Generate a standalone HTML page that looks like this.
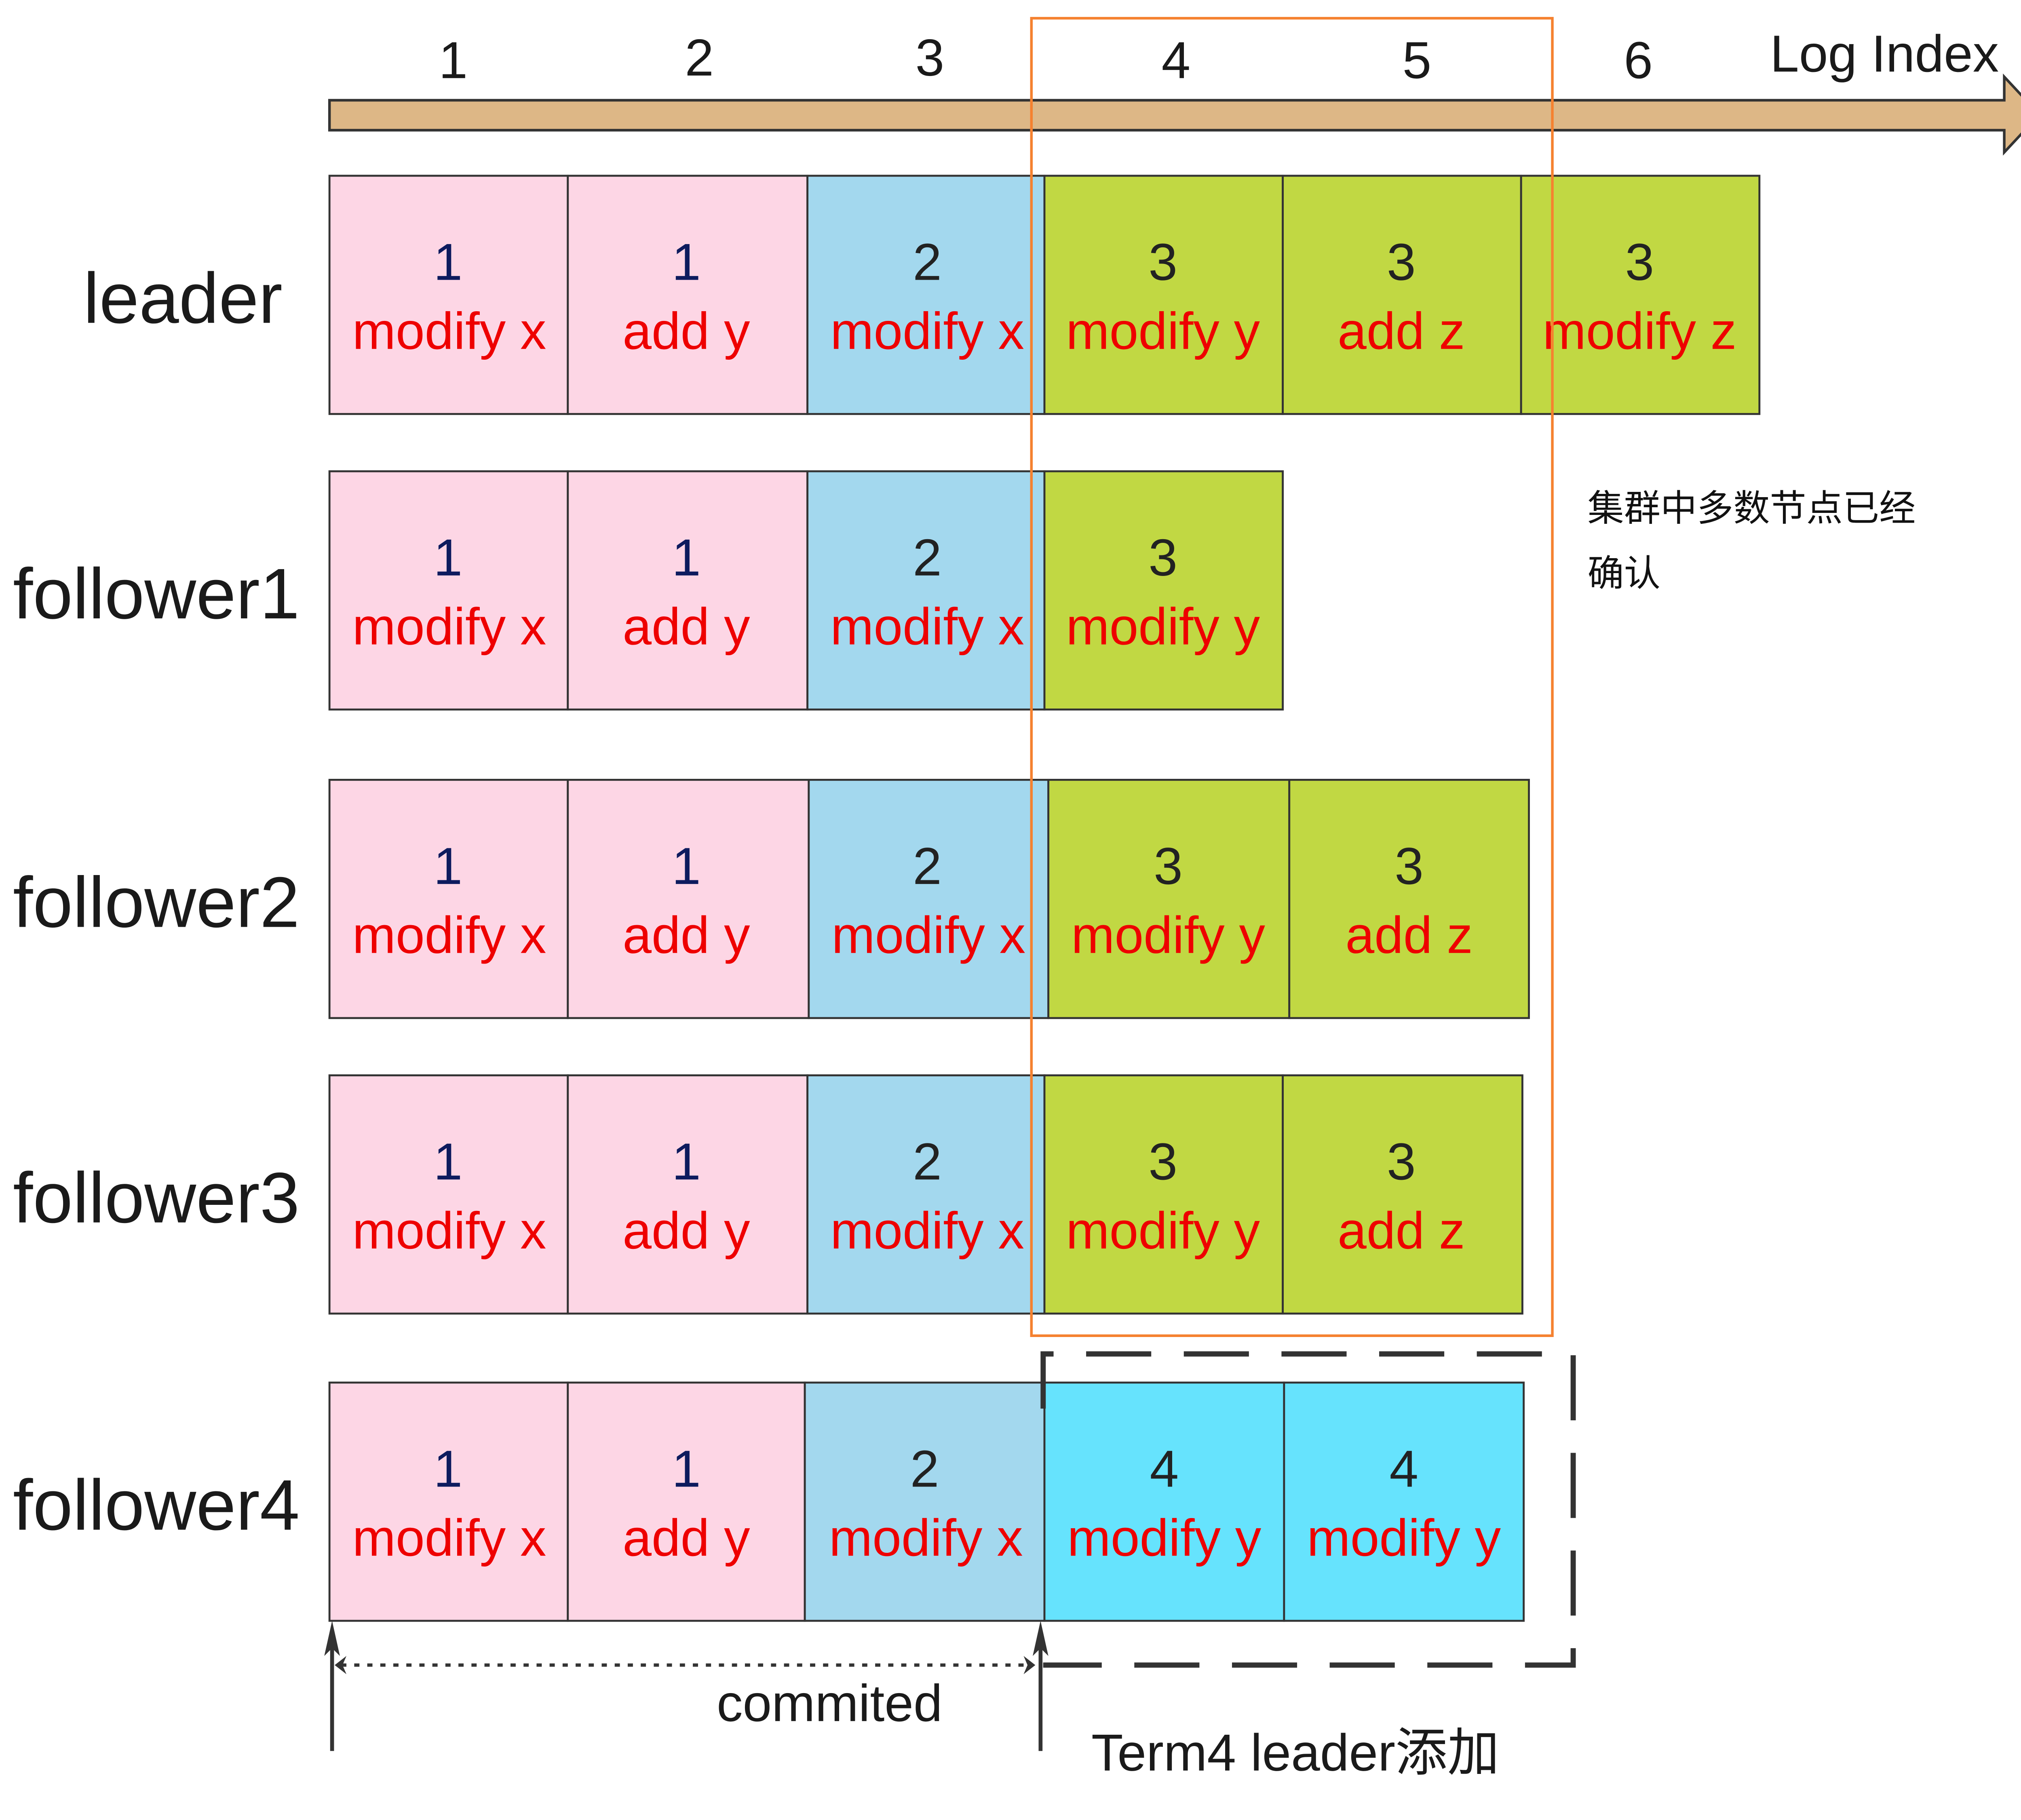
<!DOCTYPE html>
<html><head><meta charset="utf-8"><style>
html,body{margin:0;padding:0;background:#fff;}
svg{display:block;}
text{font-family:"Liberation Sans","Noto Sans CJK SC",sans-serif;}
.n{font-size:40px;text-anchor:middle;fill:#222;}
.nb{font-size:40px;text-anchor:middle;fill:#0d1b5e;}
.l{font-size:40px;text-anchor:middle;fill:#ee0000;}
.r{font-size:55px;fill:#1a1a1a;}
.c{stroke:#333;stroke-width:1.5;}
</style></head><body>
<svg width="5052" height="4503" viewBox="0 0 1568 1398" preserveAspectRatio="none" xmlns="http://www.w3.org/2000/svg">
<!-- axis arrow -->
<polygon points="253,77 1539,77 1539,59 1566,88 1539,117 1539,100 253,100" fill="#DDB786" stroke="#333" stroke-width="2"/>
<g style="font-size:40px;fill:#1a1a1a;text-anchor:middle">
<text x="348" y="60">1</text><text x="537" y="58">2</text><text x="714" y="58">3</text>
<text x="903" y="60">4</text><text x="1088" y="60">5</text><text x="1258" y="60">6</text>
<text x="1447" y="55">Log Index</text>
</g>

<!-- leader -->
<text class="r" x="64" y="248">leader</text>
<rect class="c" x="253" y="135" width="183" height="183" fill="#FDD6E5"/>
<rect class="c" x="436" y="135" width="184" height="183" fill="#FDD6E5"/>
<rect class="c" x="620" y="135" width="182" height="183" fill="#A3D8EE"/>
<rect class="c" x="802" y="135" width="183" height="183" fill="#C1D843"/>
<rect class="c" x="985" y="135" width="183" height="183" fill="#C1D843"/>
<rect class="c" x="1168" y="135" width="183" height="183" fill="#C1D843"/>
<text class="nb" x="344" y="215">1</text><text class="l" x="345" y="268">modify x</text>
<text class="nb" x="527" y="215">1</text><text class="l" x="527" y="268">add y</text>
<text class="n" x="712" y="215">2</text><text class="l" x="712" y="268">modify x</text>
<text class="n" x="893" y="215">3</text><text class="l" x="893" y="268">modify y</text>
<text class="n" x="1076" y="215">3</text><text class="l" x="1076" y="268">add z</text>
<text class="n" x="1259" y="215">3</text><text class="l" x="1259" y="268">modify z</text>

<!-- follower1 -->
<text class="r" x="10" y="475">follower1</text>
<rect class="c" x="253" y="362" width="183" height="183" fill="#FDD6E5"/>
<rect class="c" x="436" y="362" width="184" height="183" fill="#FDD6E5"/>
<rect class="c" x="620" y="362" width="182" height="183" fill="#A3D8EE"/>
<rect class="c" x="802" y="362" width="183" height="183" fill="#C1D843"/>
<text class="nb" x="344" y="442">1</text><text class="l" x="345" y="495">modify x</text>
<text class="nb" x="527" y="442">1</text><text class="l" x="527" y="495">add y</text>
<text class="n" x="712" y="442">2</text><text class="l" x="712" y="495">modify x</text>
<text class="n" x="893" y="442">3</text><text class="l" x="893" y="495">modify y</text>

<!-- follower2 -->
<text class="r" x="10" y="712">follower2</text>
<rect class="c" x="253" y="599" width="183" height="183" fill="#FDD6E5"/>
<rect class="c" x="436" y="599" width="185" height="183" fill="#FDD6E5"/>
<rect class="c" x="621" y="599" width="184" height="183" fill="#A3D8EE"/>
<rect class="c" x="805" y="599" width="185" height="183" fill="#C1D843"/>
<rect class="c" x="990" y="599" width="184" height="183" fill="#C1D843"/>
<text class="nb" x="344" y="679">1</text><text class="l" x="345" y="732">modify x</text>
<text class="nb" x="527" y="679">1</text><text class="l" x="527" y="732">add y</text>
<text class="n" x="712" y="679">2</text><text class="l" x="713" y="732">modify x</text>
<text class="n" x="897" y="679">3</text><text class="l" x="897" y="732">modify y</text>
<text class="n" x="1082" y="679">3</text><text class="l" x="1082" y="732">add z</text>

<!-- follower3 -->
<text class="r" x="10" y="939">follower3</text>
<rect class="c" x="253" y="826" width="183" height="183" fill="#FDD6E5"/>
<rect class="c" x="436" y="826" width="184" height="183" fill="#FDD6E5"/>
<rect class="c" x="620" y="826" width="182" height="183" fill="#A3D8EE"/>
<rect class="c" x="802" y="826" width="183" height="183" fill="#C1D843"/>
<rect class="c" x="985" y="826" width="184" height="183" fill="#C1D843"/>
<text class="nb" x="344" y="906">1</text><text class="l" x="345" y="959">modify x</text>
<text class="nb" x="527" y="906">1</text><text class="l" x="527" y="959">add y</text>
<text class="n" x="712" y="906">2</text><text class="l" x="712" y="959">modify x</text>
<text class="n" x="893" y="906">3</text><text class="l" x="893" y="959">modify y</text>
<text class="n" x="1076" y="906">3</text><text class="l" x="1076" y="959">add z</text>

<!-- follower4 -->
<text class="r" x="10" y="1175">follower4</text>
<rect class="c" x="253" y="1062" width="183" height="183" fill="#FDD6E5"/>
<rect class="c" x="436" y="1062" width="182" height="183" fill="#FDD6E5"/>
<rect class="c" x="618" y="1062" width="184" height="183" fill="#A3D8EE"/>
<rect class="c" x="802" y="1062" width="184" height="183" fill="#66E3FD"/>
<rect class="c" x="986" y="1062" width="184" height="183" fill="#66E3FD"/>
<text class="nb" x="344" y="1142">1</text><text class="l" x="345" y="1195">modify x</text>
<text class="nb" x="527" y="1142">1</text><text class="l" x="527" y="1195">add y</text>
<text class="n" x="710" y="1142">2</text><text class="l" x="711" y="1195">modify x</text>
<text class="n" x="894" y="1142">4</text><text class="l" x="894" y="1195">modify y</text>
<text class="n" x="1078" y="1142">4</text><text class="l" x="1078" y="1195">modify y</text>

<!-- orange box -->
<rect x="792" y="14" width="400" height="1012" fill="none" stroke="#F5812F" stroke-width="2"/>
<text x="1219" y="400" style="font-size:28px;fill:#111">集群中多数节点已经</text>
<text x="1219" y="450" style="font-size:28px;fill:#111">确认</text>

<!-- dashed box -->
<path d="M801,1082 L801,1040 L1208,1040 L1208,1279 L801,1279" fill="none" stroke="#333" stroke-width="4" stroke-dasharray="50,25"/>

<!-- vertical arrows -->
<line x1="255" y1="1345" x2="255" y2="1255" stroke="#333" stroke-width="3"/>
<polygon points="255,1245 249,1272 255,1266 261,1272" fill="#333"/>
<line x1="799" y1="1345" x2="799" y2="1255" stroke="#333" stroke-width="3"/>
<polygon points="799,1245 793,1272 799,1266 805,1272" fill="#333"/>
<!-- dotted -->
<line x1="262" y1="1279" x2="790" y2="1279" stroke="#333" stroke-width="2.5" stroke-dasharray="4,6"/>
<polygon points="257,1279 266,1272 263,1279 266,1286" fill="#333"/>
<polygon points="795,1279 786,1272 789,1279 786,1286" fill="#333"/>

<text x="637" y="1322" style="font-size:40px;fill:#1a1a1a;text-anchor:middle">commited</text>
<text x="838" y="1360" style="font-size:40px;fill:#1a1a1a">Term4 leader添加</text>
</svg>
</body></html>
